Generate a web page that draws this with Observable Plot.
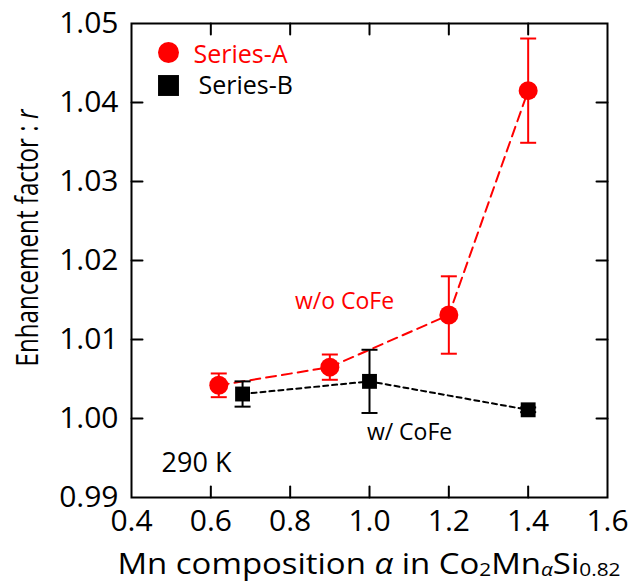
<!DOCTYPE html>
<html>
<head>
<meta charset="utf-8">
<script src="https://cdn.jsdelivr.net/npm/d3@7"></script>
<script src="https://cdn.jsdelivr.net/npm/@observablehq/plot@0.6"></script>
<style>
  html, body { margin: 0; padding: 0; background: #fff; }
  #chart svg { display: block; }
</style>
</head>
<body>
<div id="chart"></div>
<script>
// ---- data ----
const seriesA_x = [0.62, 0.90, 1.20, 1.40];
const seriesA_y = [1.0042, 1.0065, 1.0131, 1.0415];
const seriesA_err = [0.0015, 0.0016, 0.0049, 0.0066];

const seriesB_x = [0.68, 1.00, 1.40];
const seriesB_y = [1.0031, 1.0047, 1.0011];
const seriesB_err = [0.0016, 0.0040, 0.0003];

const xTicks = [0.4, 0.6, 0.8, 1.0, 1.2, 1.4, 1.6];
const yTicks = [0.99, 1.00, 1.01, 1.02, 1.03, 1.04, 1.05];
const xInnerTicks = [0.6, 0.8, 1.0, 1.2, 1.4];
const yInnerTicks = [1.00, 1.01, 1.02, 1.03, 1.04];

const legendLabels = ["Series-A", "Series-B"];
const annotText = ["w/o CoFe", "w/ CoFe", "290 K"];
const annotX = [0.937, 1.101, 0.564];
const annotY = [1.0148, 0.9982, 0.9943];

// ---- tables ----
const A = seriesA_x.map((x, i) => ({x, y: seriesA_y[i], e: seriesA_err[i]}));
const B = seriesB_x.map((x, i) => ({x, y: seriesB_y[i], e: seriesB_err[i]}));
const annots = annotText.map((t, i) => ({t, x: annotX[i], y: annotY[i]}));

const FONT = "'Open Sans', sans-serif";
const capSymbol = {draw(ctx) { ctx.moveTo(-8, 0); ctx.lineTo(8, 0); }};
const lineShape = {draw(ctx, l) { ctx.moveTo(0, 0); ctx.lineTo(0, -l); }};
const tickOpts = {length: 11, anchor: "start", shape: lineShape, stroke: "black", strokeWidth: 2};

const plot = Plot.plot({
  width: 631,
  height: 585,
  marginLeft: 131,
  marginRight: 24,
  marginTop: 23,
  marginBottom: 88,
  style: {fontFamily: FONT, background: "white", color: "black", overflow: "visible"},
  x: {domain: [0.4, 1.6], label: null},
  y: {domain: [0.99, 1.05], label: null},
  marks: [
    Plot.axisX(xTicks, {tickSize: 0, tickPadding: 12, fontSize: 30, tickFormat: d3.format(".1f"), fill: "black"}),
    Plot.axisY(yTicks, {tickSize: 0, tickPadding: 13, fontSize: 30, tickFormat: d3.format(".2f"), fill: "black"}),
    // inward ticks
    Plot.vector(xInnerTicks, {x: d => d, frameAnchor: "bottom", rotate: 0, ...tickOpts}),
    Plot.vector(xInnerTicks, {x: d => d, frameAnchor: "top", rotate: 180, ...tickOpts}),
    Plot.vector(yInnerTicks, {y: d => d, frameAnchor: "left", rotate: 90, ...tickOpts}),
    Plot.vector(yInnerTicks, {y: d => d, frameAnchor: "right", rotate: -90, ...tickOpts}),
    // connecting lines
    Plot.line(A, {x: "x", y: "y", stroke: "red", strokeWidth: 2, strokeDasharray: "10,6"}),
    Plot.line(B, {x: "x", y: "y", stroke: "black", strokeWidth: 2, strokeDasharray: "5,4"}),
    // error bars
    Plot.ruleX(A, {x: "x", y1: d => d.y - d.e, y2: d => d.y + d.e, stroke: "red", strokeWidth: 2}),
    Plot.dot(A, {x: "x", y: d => d.y - d.e, symbol: capSymbol, fill: "none", stroke: "red", strokeWidth: 2}),
    Plot.dot(A, {x: "x", y: d => d.y + d.e, symbol: capSymbol, fill: "none", stroke: "red", strokeWidth: 2}),
    Plot.ruleX(B, {x: "x", y1: d => d.y - d.e, y2: d => d.y + d.e, stroke: "black", strokeWidth: 2}),
    Plot.dot(B, {x: "x", y: d => d.y - d.e, symbol: capSymbol, fill: "none", stroke: "black", strokeWidth: 2}),
    Plot.dot(B, {x: "x", y: d => d.y + d.e, symbol: capSymbol, fill: "none", stroke: "black", strokeWidth: 2}),
    // points
    Plot.dot(A, {x: "x", y: "y", r: 9.5, fill: "red", stroke: "none"}),
    Plot.dot(B, {x: "x", y: "y", r: 8.4, symbol: "square", fill: "black", stroke: "none"}),
    // annotations
    Plot.text(annots, {x: "x", y: "y", text: "t", fontSize: (d) => d.t === "290 K" ? 27 : 23,
      fill: d => d.t === "w/o CoFe" ? "red" : "black", textAnchor: "middle", lineAnchor: "middle"}),
    // legend
    Plot.dot([legendLabels[0]], {frameAnchor: "top-left", dx: 37, dy: 29, r: 10.5, fill: "red", stroke: "none"}),
    Plot.dot([legendLabels[1]], {frameAnchor: "top-left", dx: 37, dy: 62, r: 11.8, symbol: "square", fill: "black", stroke: "none"}),
    Plot.text([legendLabels[0]], {text: d => d, frameAnchor: "top-left", dx: 62, dy: 31, textAnchor: "start", lineAnchor: "middle", fontSize: 25, fill: "red"}),
    Plot.text([legendLabels[1]], {text: d => d, frameAnchor: "top-left", dx: 67, dy: 62, textAnchor: "start", lineAnchor: "middle", fontSize: 25, fill: "black"}),
    Plot.frame({stroke: "black", strokeWidth: 2})
  ]
});

// axis titles with italic and subscripts
const svg = d3.select(plot);
const xs = plot.scale("x");
const xCenter = (xs.range[0] + xs.range[1]) / 2;

const xt = svg.append("text")
  .attr("x", xCenter).attr("y", 574)
  .attr("text-anchor", "middle")
  .attr("fill", "black")
  .attr("textLength", 503)
  .attr("lengthAdjust", "spacingAndGlyphs")
  .style("font-family", FONT).style("font-size", "30px");
xt.append("tspan").text("Mn composition ");
xt.append("tspan").attr("font-style", "italic").text("α");
xt.append("tspan").text(" in Co");
xt.append("tspan").attr("font-size", "19px").attr("dy", 2).text("2");
xt.append("tspan").attr("dy", -2).text("Mn");
xt.append("tspan").attr("font-size", "19px").attr("font-style", "italic").attr("dy", 2).text("α");
xt.append("tspan").attr("dy", -2).text("Si");
xt.append("tspan").attr("font-size", "19px").attr("dy", 2).text("0.82");

const yt = svg.append("text")
  .attr("transform", "translate(38,238) rotate(-90)")
  .attr("text-anchor", "middle")
  .attr("fill", "black")
  .attr("textLength", 257)
  .attr("lengthAdjust", "spacingAndGlyphs")
  .style("font-family", FONT).style("font-size", "31px");
yt.append("tspan").text("Enhancement factor : ");
yt.append("tspan").attr("font-style", "italic").text("r");

document.getElementById("chart").appendChild(plot);
</script>
</body>
</html>
